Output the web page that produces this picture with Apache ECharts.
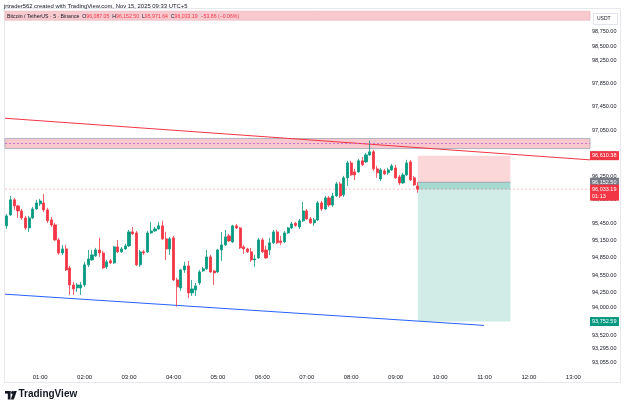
<!DOCTYPE html>
<html>
<head>
<meta charset="utf-8">
<script src="https://cdn.jsdelivr.net/npm/echarts@6/dist/echarts.min.js"></script>
<style>
  html, body { margin: 0; padding: 0; background: #ffffff; }
  #chart { width: 625px; height: 409px; }
</style>
</head>
<body>
<div id="chart"></div>
<script>
(function() {
  var up = '#089981';
  var down = '#f23645';
  var ink = '#131722';
  var font = 'Liberation Sans';

  // 5 minute candles, BTC/USDT, first one at 00:15
  var opens = [95401,95590,95849,95745,95659,95538,95366,95538,95693,95780,
    95797,95676,95504,95418,95159,94935,95004,94677,94384,94332,
    94332,94384,94729,94815,94884,94987,94935,94694,94798,94763,
    95039,94953,95004,95056,95297,95280,94729,94953,94953,95280,
    95314,95349,95401,95177,95004,95194,94470,94332,94642,94711,
    94246,94298,94418,94625,94660,94866,94625,94608,94987,95073,
    95228,95125,95401,95366,95039,95004,94953,94815,94849,95159,
    94987,94987,95108,95297,95142,95125,95280,95366,95444,95383,
    95487,95659,95521,95452,95504,95797,95693,95883,95762,95917,
    96124,95935,96228,96486,96331,96331,96521,96503,96624,96676,
    96383,96210,96348,96314,96365,96400,96245,96141,96279,96503,
    96228,96087.05];
  var closes = [95573,95849,95745,95659,95538,95366,95538,95693,95797,95831,
    95676,95487,95418,95159,94935,95004,94642,94384,94315,94384,
    94384,94729,94832,94901,94987,94935,94677,94780,94763,95039,
    94953,95004,95056,95297,95263,94729,94953,94935,95280,95314,
    95349,95401,95177,95004,95177,94470,94350,94642,94711,94246,
    94315,94367,94608,94660,94866,94608,94591,94987,95073,95211,
    95142,95401,95366,95022,95004,94953,94815,94832,95159,94953,
    94849,95108,95297,95108,95116,95280,95366,95435,95409,95487,
    95659,95521,95452,95504,95797,95693,95883,95762,95917,96124,
    95917,96228,96486,96279,96279,96521,96452,96624,96676,96383,
    96314,96365,96297,96365,96434,96228,96141,96279,96486,96193,
    96107,96033.19];
  var lows = [95349,95573,95676,95538,95504,95332,95297,95521,95676,95745,
    95642,95452,95383,95142,94901,94901,94625,94212,94212,94263,
    94212,94350,94694,94798,94866,94866,94660,94660,94746,94746,
    94935,94935,94987,95039,95246,94711,94694,94901,94935,95263,
    95297,95332,95159,94815,94901,94453,94010,94281,94591,94160,
    94194,94194,94384,94608,94642,94591,94384,94591,94798,95056,
    95125,95108,95349,95004,94918,94935,94780,94694,94832,94935,
    94832,94901,95090,95090,95073,95108,95263,95349,95383,95349,
    95469,95504,95435,95401,95487,95659,95676,95728,95728,95900,
    95883,95900,96090,96262,96193,96314,96434,96486,96607,96348,
    96228,96176,96279,96279,96348,96210,96107,96124,96262,96176,
    96090,95971.64];
  var highs = [95607,95917,95883,95762,95693,95573,95573,95728,95849,95866,
    95952,95711,95556,95452,95194,95073,95073,94711,94436,94418,
    94436,94780,94987,94987,95022,95194,94970,94815,94832,95056,
    95159,95039,95090,95332,95383,95314,94987,94987,95314,95469,
    95383,95469,95487,95297,95211,95228,94505,94660,94780,94798,
    94470,94418,94642,94694,94987,94901,94642,95004,95297,95332,
    95263,95418,95435,95383,95073,95022,95022,94901,95194,95194,
    95056,95194,95332,95332,95228,95314,95383,95469,95469,95521,
    95814,95693,95556,95538,95831,95831,95917,95917,95969,96159,
    96159,96262,96521,96521,96383,96555,96589,96658,96870,96710,
    96434,96400,96383,96400,96469,96452,96279,96314,96538,96538,
    96262,96152.5];

  // price axis labels as TradingView placed them
  var priceTicks = [98750, 98500, 98250, 97850, 97450, 97050, 96650, 96250, 95850,
    95450, 95150, 94850, 94550, 94250, 94000, 93520, 93295, 93055];

  // drawings (x in candle slots, y in USDT)
  var resistLine = [[-0.5, 97255], [157.5, 96538]];
  var supportLine = [[-0.5, 94224], [128.9, 93686]];
  var zone = [96733, 96905];
  var zoneMid = 96819;
  var topBand = [98945, 99100];
  var position = { x0: 111, x1: 136, entry: 96152.5, stop: 96610.38, target: 93752.59 };
  var lastPrice = 96033.19;

  var times = [];
  for (var m = 15; m <= 13 * 60 + 20; m += 5) {
    var hh = Math.floor(m / 60), mm = m % 60;
    times.push((hh < 10 ? '0' : '') + hh + ':' + (mm < 10 ? '0' : '') + mm);
  }

  var candles = opens.map(function(o, i) { return [o, closes[i], lows[i], highs[i]]; });

  function fmt(v) {
    return v.toLocaleString('en-US', { minimumFractionDigits: 2, maximumFractionDigits: 2 });
  }

  function tag(value, bg, text, extra) {
    var lbl = {
      show: true, position: 'end', distance: 0,
      formatter: text || fmt(value),
      color: '#ffffff', backgroundColor: bg,
      fontFamily: font, fontSize: 5.5, lineHeight: 7,
      padding: [1, 2], width: 25, align: 'left'
    };
    if (extra) for (var k in extra) lbl[k] = extra[k];
    return { yAxis: value, lineStyle: { color: 'rgba(0,0,0,0)', width: 1, type: 'solid' }, label: lbl };
  }

  var chart = echarts.init(document.getElementById('chart'), null, { renderer: 'canvas' });

  chart.setOption({
    animation: false,
    backgroundColor: '#ffffff',
    grid: { left: 5, right: 35, top: 10, bottom: 40 },
    xAxis: [{
      type: 'category',
      data: times,
      boundaryGap: true,
      axisLine: { show: false },
      axisTick: { show: false },
      splitLine: { show: false },
      axisLabel: {
        color: ink, fontFamily: font, fontSize: 6, margin: 5,
        interval: function(i, v) { return v.slice(3) === '00'; }
      }
    }, {
      type: 'value', min: -0.5, max: 157.5, show: false
    }],
    yAxis: {
      type: 'value',
      position: 'right',
      min: 92935, max: 99120,
      axisLine: { show: false },
      axisTick: { show: false },
      splitLine: { show: false },
      axisLabel: {
        customValues: priceTicks,
        color: ink, fontFamily: font, fontSize: 5.5, margin: 2,
        formatter: fmt
      }
    },
    series: [{
      type: 'line',
      xAxisIndex: 1,
      data: resistLine,
      symbol: 'none', silent: true, z: 3,
      lineStyle: { color: down, width: 1 },
      markArea: {
        silent: true,
        data: [
          [{ yAxis: topBand[0], itemStyle: { color: '#f8c9cf', borderColor: '#e3b0b7', borderWidth: 0.6 } }, { yAxis: topBand[1] }],
          [{ yAxis: zone[0], itemStyle: { color: '#f8c8ce', borderColor: '#b2b5be', borderWidth: 1 } }, { yAxis: zone[1] }],
          [{ xAxis: position.x0, yAxis: position.entry, itemStyle: { color: 'rgba(242,54,69,0.2)' } }, { xAxis: position.x1, yAxis: position.stop }],
          [{ xAxis: position.x0, yAxis: position.target, itemStyle: { color: 'rgba(8,153,129,0.19)' } }, { xAxis: position.x1, yAxis: position.entry }],
          [{ xAxis: position.x0, yAxis: lastPrice, itemStyle: { color: 'rgba(8,153,129,0.22)' } }, { xAxis: position.x1, yAxis: position.entry }]
        ]
      },
      markLine: {
        silent: true, symbol: 'none',
        data: [
          { yAxis: zoneMid, lineStyle: { color: '#c75bc9', width: 0.8, type: [2, 2] }, label: { show: false } }
        ]
      }
    }, {
      type: 'line',
      xAxisIndex: 1,
      clip: false,
      data: [[-0.5, lastPrice], [157.5, lastPrice]],
      symbol: 'none', silent: true, z: 6,
      lineStyle: { color: 'rgba(242,54,69,0.4)', width: 0.8, type: [2, 2] },
      markLine: {
        silent: true, symbol: 'none',
        data: [
          tag(position.stop, down),
          tag(position.entry, '#787b86'),
          tag(position.target, up),
          tag(lastPrice, down, fmt(lastPrice) + '\n01:13', { offset: [0, 3.5] })
        ]
      }
    }, {
      type: 'line',
      xAxisIndex: 1,
      data: [[position.x0, position.entry], [position.x1, position.entry]],
      symbol: 'none', silent: true, z: 3,
      lineStyle: { color: '#9598a1', width: 0.8 }
    }, {
      type: 'line',
      xAxisIndex: 1,
      data: supportLine,
      symbol: 'none', silent: true, z: 3,
      lineStyle: { color: '#2962ff', width: 1 }
    }, {
      type: 'candlestick',
      data: candles,
      barWidth: 2.6,
      z: 4,
      itemStyle: {
        color: up, color0: down,
        borderColor: up, borderColor0: down,
        borderWidth: 0.8
      }
    }],
    graphic: [
      { type: 'rect', silent: true, shape: { x: 4.5, y: 8.5, width: 616, height: 374 },
        style: { fill: 'none', stroke: '#e6e8ee', lineWidth: 1 } },
      { type: 'text', left: 4, top: 3, z: 100,
        style: { text: 'jrtrader562 created with TradingView.com, Nov 15, 2025 09:33 UTC+5', fill: ink, font: '5.9px "Liberation Sans"' } },
      { type: 'text', left: 7, top: 14.5, z: 100,
        style: {
          text: '{a|Bitcoin / TetherUS · 5 · Binance  O}{r|96,087.05}{a|  H}{r|96,152.50}{a|  L}{r|95,971.64}{a|  C}{r|96,033.19  −53.86 (−0.06%)}',
          fontFamily: font, fontSize: 5.2,
          rich: {
            a: { fill: ink, fontFamily: font, fontSize: 5.2 },
            r: { fill: down, fontFamily: font, fontSize: 5.2 }
          }
        } },
      { type: 'rect', silent: true, shape: { x: 593.5, y: 13.5, width: 24, height: 11 },
        style: { fill: '#ffffff', stroke: '#e0e3eb', lineWidth: 1 } },
      { type: 'text', left: 597, top: 16.5,
        style: { text: 'USDT', fill: ink, font: '5px "Liberation Sans"' } },
      // TradingView logo
      { type: 'rect', shape: { x: 5, y: 391, width: 5.5, height: 2.6 }, style: { fill: ink } },
      { type: 'rect', shape: { x: 7.8, y: 391, width: 2.7, height: 8.5 }, style: { fill: ink } },
      { type: 'circle', shape: { cx: 12.5, cy: 392.6, r: 1.5 }, style: { fill: ink } },
      { type: 'polygon', shape: { points: [[13.6, 391], [16.8, 391], [13.8, 399.5], [10.8, 399.5]] }, style: { fill: ink } },
      { type: 'text', left: 18.5, top: 389.5,
        style: { text: 'TradingView', fill: ink, font: 'bold 10px "Liberation Sans"' } }
    ]
  });

  window.addEventListener('resize', function() { chart.resize(); });
})();
</script>
</body>
</html>
